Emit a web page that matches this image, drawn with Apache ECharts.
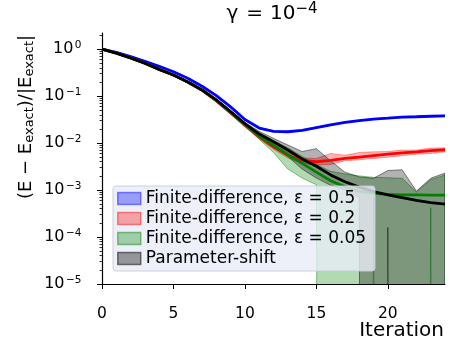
<!DOCTYPE html>
<html>
<head>
<meta charset="UTF-8">
<title></title>
<script src="https://cdn.jsdelivr.net/npm/echarts@6/dist/echarts.min.js"></script>
<style>
  html, body { margin: 0; padding: 0; background: #fff; }
  #main { width: 468px; height: 351px; }
</style>
</head>
<body>
<div id="main"></div>
<script>
var iterations = [0, 1, 2, 3, 4, 5, 6, 7, 8, 9, 10, 11, 12, 13, 14, 15, 16, 17, 18, 19, 20, 21, 22, 23, 24];

var seriesNames = ['Finite-difference, ε = 0.5', 'Finite-difference, ε = 0.2', 'Finite-difference, ε = 0.05', 'Parameter-shift'];

// finite difference, eps = 0.5
var fd05Mean = [1.0, 0.85, 0.69, 0.55, 0.43, 0.33, 0.24, 0.162, 0.102, 0.059, 0.0316, 0.0209, 0.0178, 0.0174, 0.0186, 0.0214, 0.0245, 0.0275, 0.030, 0.0324, 0.0339, 0.0355, 0.0363, 0.0372, 0.038];
var fd05High = [1.02, 0.87, 0.70, 0.56, 0.44, 0.34, 0.245, 0.166, 0.105, 0.061, 0.0325, 0.0215, 0.0183, 0.0179, 0.0191, 0.022, 0.0252, 0.0282, 0.0308, 0.0332, 0.0348, 0.0364, 0.0372, 0.0381, 0.039];
var fd05Low = [0.98, 0.83, 0.68, 0.54, 0.42, 0.32, 0.235, 0.158, 0.099, 0.057, 0.0307, 0.0203, 0.0173, 0.0169, 0.0181, 0.0208, 0.0238, 0.0268, 0.0292, 0.0316, 0.033, 0.0346, 0.0354, 0.0363, 0.037];

// finite difference, eps = 0.2
var fd02Mean = [1.0, 0.82, 0.65, 0.50, 0.37, 0.28, 0.20, 0.132, 0.079, 0.044, 0.024, 0.0135, 0.0083, 0.0055, 0.0043, 0.0040, 0.0043, 0.0047, 0.0050, 0.0054, 0.0058, 0.0062, 0.0065, 0.0069, 0.0072];
var fd02High = [1.02, 0.84, 0.66, 0.51, 0.38, 0.29, 0.204, 0.135, 0.083, 0.047, 0.026, 0.0148, 0.0093, 0.0063, 0.0048, 0.0047, 0.0060, 0.0055, 0.0063, 0.0065, 0.0066, 0.0071, 0.0071, 0.0078, 0.0079];
var fd02Low = [0.98, 0.80, 0.63, 0.49, 0.36, 0.27, 0.195, 0.128, 0.075, 0.041, 0.022, 0.0122, 0.0074, 0.0048, 0.0037, 0.0034, 0.0035, 0.0042, 0.0044, 0.0047, 0.0050, 0.0054, 0.0058, 0.0060, 0.0065];

// finite difference, eps = 0.05 (0 = lower bound not positive)
var fd005Mean = [1.0, 0.82, 0.65, 0.50, 0.37, 0.28, 0.20, 0.135, 0.081, 0.045, 0.0245, 0.0141, 0.0089, 0.0056, 0.0037, 0.0024, 0.00158, 0.00117, 0.00095, 0.00085, 0.00081, 0.00079, 0.00079, 0.00078, 0.00078];
var fd005High = [1.04, 0.85, 0.67, 0.52, 0.385, 0.29, 0.207, 0.14, 0.085, 0.048, 0.027, 0.0166, 0.0112, 0.0079, 0.0052, 0.0035, 0.0025, 0.0022, 0.0020, 0.00186, 0.00182, 0.00178, 0.00091, 0.00166, 0.0021];
var fd005Low = [0.96, 0.79, 0.62, 0.48, 0.355, 0.27, 0.19, 0.13, 0.077, 0.043, 0.0233, 0.012, 0.0063, 0.0028, 0.0018, 0.0013, 0, 0, 0, 0.0007, 0, 0, 0, 0.00042, 0];

// parameter shift
var psMean = [1.0, 0.82, 0.65, 0.50, 0.37, 0.28, 0.20, 0.135, 0.083, 0.047, 0.026, 0.0155, 0.0107, 0.0071, 0.0046, 0.0032, 0.0021, 0.0015, 0.00115, 0.00093, 0.00079, 0.00069, 0.0006, 0.00054, 0.0005];
var psHigh = [1.04, 0.85, 0.68, 0.52, 0.39, 0.29, 0.21, 0.141, 0.087, 0.049, 0.0272, 0.0178, 0.0126, 0.0091, 0.0066, 0.0076, 0.0042, 0.0024, 0.0019, 0.00178, 0.0026, 0.0027, 0.00095, 0.00178, 0.0023];
var psLow = [0.96, 0.79, 0.62, 0.48, 0.355, 0.27, 0.19, 0.13, 0.079, 0.045, 0.0245, 0.0138, 0.0091, 0.0052, 0.0028, 0.0018, 0.00126, 0.001, 0.0007, 0, 0.00016, 0, 0, 0, 0];

var yMajor = [1e-5, 1e-4, 1e-3, 1e-2, 1e-1, 1];
var xMajor = [0, 5, 10, 15, 20];

var yMinor = [];
for (var d = -5; d <= 0; d++) {
  for (var m = 2; m <= 9; m++) {
    var v = m * Math.pow(10, d);
    if (v < 2.2) yMinor.push(v);
  }
}

var FONT = 'DejaVu Sans';
var myChart = echarts.init(document.getElementById('main'));

// non-positive lower bounds go far below the log axis (like matplotlib clipping)
function floorLog(v) { return v > 0 ? v : 1e-100; }

function pairs(arr) {
  return iterations.map(function (x, i) { return [x, arr[i]]; });
}

// shaded band between low and high, drawn as one polygon through the axes
function band(name, low, high, fill, edge) {
  var rows = iterations.map(function (x, i) { return [x, floorLog(low[i]), high[i]]; });
  return {
    name: name, type: 'custom', silent: true,
    itemStyle: { color: fill },
    encode: { x: 0, y: [1, 2] },
    data: rows,
    renderItem: function (params, api) {
      if (params.dataIndex !== 0) return null;
      var pts = [];
      for (var i = 0; i < rows.length; i++) pts.push(api.coord([rows[i][0], rows[i][2]]));
      for (var j = rows.length - 1; j >= 0; j--) pts.push(api.coord([rows[j][0], rows[j][1]]));
      var cs = params.coordSys;
      return {
        type: 'polygon',
        shape: { points: pts },
        style: { fill: fill, stroke: edge, lineWidth: 1 },
        clipPath: { type: 'rect', shape: { x: cs.x, y: cs.y, width: cs.width, height: cs.height } }
      };
    }
  };
}

function meanLine(key, arr, color) {
  return {
    name: key + '-mean', type: 'line', symbol: 'none', silent: true,
    data: pairs(arr),
    lineStyle: { color: color, width: 2.8 }
  };
}

var series = [
  band(seriesNames[0], fd05Low, fd05High, 'rgba(0,0,255,0.3)', 'rgba(0,0,255,0.35)'),
  meanLine(seriesNames[0], fd05Mean, '#0000ff'),
  band(seriesNames[1], fd02Low, fd02High, 'rgba(255,0,0,0.3)', 'rgba(255,0,0,0.35)'),
  meanLine(seriesNames[1], fd02Mean, '#ff0000'),
  band(seriesNames[2], fd005Low, fd005High, 'rgba(0,128,0,0.3)', 'rgba(0,128,0,0.45)'),
  meanLine(seriesNames[2], fd005Mean, '#008000'),
  band(seriesNames[3], psLow, psHigh, 'rgba(0,0,0,0.3)', 'rgba(0,0,0,0.45)'),
  meanLine(seriesNames[3], psMean, '#000000')
];

var tickRich = {
  b: { fontFamily: FONT, fontSize: 16, color: '#000', lineHeight: 18 },
  s: { fontFamily: FONT, fontSize: 10.5, color: '#000', lineHeight: 10, verticalAlign: 'top', padding: [0, 0, 0, 1.5] }
};

var option = {
  animation: false,
  backgroundColor: '#fff',
  grid: { left: 102, right: 23, top: 33, bottom: 67 },
  legend: {
    orient: 'vertical', left: 113, top: 186,
    icon: 'rect', itemWidth: 23, itemHeight: 12, itemGap: 3,
    padding: [4, 9, 4, 4],
    backgroundColor: 'rgba(232,236,246,0.8)',
    borderColor: 'rgba(200,204,214,0.9)', borderWidth: 1, borderRadius: 3,
    textStyle: { fontFamily: FONT, fontSize: 17, color: '#000' },
    data: [
      { name: seriesNames[0], itemStyle: { color: 'rgba(0,0,255,0.35)', borderColor: 'rgba(0,0,255,0.45)', borderWidth: 1.5 } },
      { name: seriesNames[1], itemStyle: { color: 'rgba(255,0,0,0.32)', borderColor: 'rgba(255,0,0,0.45)', borderWidth: 1.5 } },
      { name: seriesNames[2], itemStyle: { color: 'rgba(0,128,0,0.32)', borderColor: 'rgba(0,128,0,0.45)', borderWidth: 1.5 } },
      { name: seriesNames[3], itemStyle: { color: 'rgba(0,0,0,0.38)', borderColor: 'rgba(0,0,0,0.5)', borderWidth: 1.5 } }
    ]
  },
  xAxis: {
    type: 'value', min: 0, max: 24,
    axisLine: { lineStyle: { color: '#000', width: 1.2 } },
    axisTick: { customValues: xMajor, length: 5, lineStyle: { color: '#000', width: 1 } },
    axisLabel: { customValues: xMajor, margin: 21.5, fontFamily: FONT, fontSize: 15.5, color: '#000' },
    splitLine: { show: false }
  },
  yAxis: [{
    type: 'log', logBase: 10, min: 1e-5, max: 2.2,
    axisLine: { show: true, lineStyle: { color: '#000', width: 1.2 } },
    axisTick: { customValues: yMajor, length: 5, lineStyle: { color: '#000', width: 1 } },
    axisLabel: {
      customValues: yMajor, margin: 20.5,
      formatter: function (val) {
        var e = Math.round(Math.log(val) / Math.LN10);
        return '{b|10}{s|' + (e < 0 ? '−' + (-e) : e) + '}';
      },
      rich: tickRich
    },
    splitLine: { show: false }
  }, {
    type: 'log', logBase: 10, min: 1e-5, max: 2.2, position: 'left',
    axisLine: { show: false },
    axisTick: { customValues: yMinor, length: 2.5, lineStyle: { color: '#000', width: 0.8 } },
    axisLabel: { show: false },
    splitLine: { show: false }
  }],
  graphic: [{
    type: 'text', x: 272, y: 14,
    style: {
      text: '{b|γ}{e|=}{b|10}{s|−4}', align: 'center', verticalAlign: 'middle',
      rich: {
        b: { fontFamily: FONT, fontSize: 20, color: '#000', lineHeight: 24 },
        e: { fontFamily: FONT, fontSize: 20, color: '#000', lineHeight: 24, padding: [0, 7, 0, 8] },
        s: { fontFamily: FONT, fontSize: 15, color: '#000', lineHeight: 12.5, verticalAlign: 'top' }
      }
    }
  }, {
    type: 'text', x: 26, y: 117, rotation: Math.PI / 2,
    style: {
      text: '{b|(E − E}{s|exact}{b|)/|E}{s|exact}{b||}', align: 'center', verticalAlign: 'middle',
      rich: {
        b: { fontFamily: FONT, fontSize: 18, color: '#000', lineHeight: 20 },
        s: { fontFamily: FONT, fontSize: 13, color: '#000', lineHeight: 9, verticalAlign: 'bottom' }
      }
    }
  }, {
    type: 'text', x: 444, y: 331,
    style: { text: 'Iteration', align: 'right', verticalAlign: 'middle', fontFamily: FONT, fontSize: 20, fill: '#000' }
  }],
  series: series
};

myChart.setOption(option);
</script>
</body>
</html>
